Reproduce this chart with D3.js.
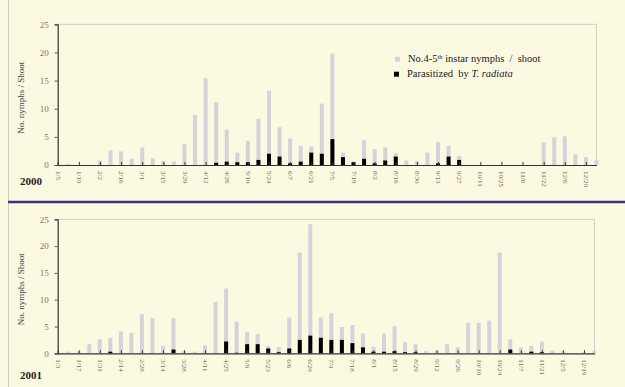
<!DOCTYPE html>
<html>
<head>
<meta charset="utf-8">
<script src="https://cdn.jsdelivr.net/npm/d3@7"></script>
<style>
  html, body { margin: 0; padding: 0; background: #fcf9e1; }
  svg { display: block; }
  text { font-family: "Liberation Serif", "DejaVu Serif", serif; }
</style>
</head>
<body>
<svg id="chart" width="625" height="387"></svg>
<script>
// ---------- DATA ----------
const weeks2000 = ["1/5","1/12","1/19","1/26","2/2","2/9","2/16","2/23","3/1","3/8","3/15","3/22","3/29",
  "4/5","4/12","4/19","4/26","5/3","5/10","5/17","5/24","5/31","6/7","6/14","6/21","6/28",
  "7/5","7/12","7/19","7/26","8/2","8/9","8/16","8/23","8/30","9/6","9/13","9/20","9/27",
  "10/4","10/11","10/18","10/25","11/1","11/8","11/15","11/22","11/29","12/6","12/13","12/20","12/27"];
const ticks2000 = ["1/5","1/19","2/2","2/16","3/1","3/15","3/29","4/12","4/26","5/10","5/24","6/7","6/21",
  "7/5","7/19","8/2","8/16","8/30","9/13","9/27","10/11","10/25","11/8","11/22","12/6","12/20"];
const nymphs2000 = [0,0.2,0,0,0.8,2.6,2.4,1.1,3.1,1.2,0.7,0.6,3.7,
  8.9,15.4,11.2,6.3,2.2,4.3,8.2,13.2,6.7,4.7,3.4,3.3,10.9,
  19.8,2.2,0.6,4.4,2.8,3.1,2.1,0.8,0.7,2.2,4.1,3.4,1.6,
  0,0,0,0,0,0,0,4.0,4.9,5.1,1.9,1.4,0.9];
const parasit2000 = [0,0,0,0,0,0,0,0,0,0,0,0,0,
  0,0,0.4,0.6,0.5,0.5,0.9,2.0,1.5,0.3,0.6,2.2,2.0,
  4.6,1.4,0.5,1.1,0.3,0.8,1.5,0,0,0,0.3,1.5,0.9,
  0,0,0,0,0,0,0,0,0,0,0,0,0];

const weeks2001 = ["1/3","1/10","1/17","1/24","1/31","2/7","2/14","2/21","2/28","3/7","3/14","3/21","3/28",
  "4/4","4/11","4/18","4/25","5/2","5/9","5/16","5/23","5/30","6/6","6/13","6/20","6/27",
  "7/4","7/11","7/18","7/25","8/1","8/8","8/15","8/22","8/29","9/5","9/12","9/19","9/26",
  "10/3","10/10","10/17","10/24","10/31","11/7","11/14","11/21","11/28","12/5","12/12","12/19","12/26"];
const ticks2001 = ["1/3","1/17","1/31","2/14","2/28","3/14","3/28","4/11","4/25","5/9","5/23","6/6","6/20",
  "7/4","7/18","8/1","8/15","8/29","9/12","9/26","10/10","10/24","11/7","11/21","12/5","12/19"];
const nymphs2001 = [0,0.3,0.4,1.7,2.6,2.9,4.1,3.8,7.3,6.6,1.4,6.6,0.4,
  0.3,1.5,9.6,12.1,5.9,4.0,3.6,1.4,1.2,6.7,18.8,24.1,6.7,
  7.5,4.9,5.3,3.7,1.2,3.7,5.0,2.1,1.7,0.4,0.5,1.7,1.1,
  5.7,5.7,6.1,18.8,2.6,1.1,1.4,2.2,0.5,0.4,0,0.2,0.5];
const parasit2001 = [0,0,0,0,0,0.3,0,0,0,0,0,0.7,0,
  0,0,0,2.2,0.1,1.7,1.7,0.9,0.2,0.9,2.5,3.3,2.9,
  2.5,2.5,1.9,1.1,0.3,0.3,0.4,0.2,0.2,0,0,0,0,
  0,0,0,0,0.7,0,0.3,0.2,0,0,0,0,0];

const yTicks = [0, 5, 10, 15, 20, 25];
const yTitle = "No. nymphs / Shoot";
const legendNymph = "No.4-5";
const legendPara = "Parasitized  by ";

// ---------- DRAW ----------
const svg = d3.select("#chart");
const GRAY = "#d3d3dc", BLACK = "#000";

svg.append("rect").attr("width", 625).attr("height", 387).attr("fill", "#fcf9e1");
// outer left rule and blue divider
svg.append("line").attr("x1", 8.5).attr("x2", 8.5).attr("y1", 0).attr("y2", 387)
  .attr("stroke", "#d0cfc4").attr("stroke-width", 1);
svg.append("line").attr("x1", 8).attr("x2", 625).attr("y1", 202).attr("y2", 202)
  .attr("stroke", "#34347e").attr("stroke-width", 2.5);

function panel(cfg) {
  const g = svg.append("g");
  const x = d3.scalePoint().domain(cfg.weeks).range([cfg.left, cfg.right]);
  const y = d3.scaleLinear().domain([0, 25]).range([cfg.bottom, cfg.top]);

  // frame (top and right, light)
  g.append("path")
    .attr("d", `M${cfg.left},${y(25)}H${cfg.right}V${y(0)}`)
    .attr("fill", "none").attr("stroke", "#cfcfc0").attr("stroke-width", 1);

  const bw = 4;
  g.selectAll("rect.n").data(cfg.weeks).join("rect").attr("class", "n")
    .attr("x", (d) => x(d) - bw / 2)
    .attr("width", bw)
    .attr("y", (d, i) => y(cfg.nymphs[i]))
    .attr("height", (d, i) => y(0) - y(cfg.nymphs[i]))
    .attr("fill", GRAY);
  g.selectAll("rect.p").data(cfg.weeks).join("rect").attr("class", "p")
    .attr("x", (d) => x(d) - bw / 2)
    .attr("width", bw)
    .attr("y", (d, i) => y(cfg.para[i]))
    .attr("height", (d, i) => y(0) - y(cfg.para[i]))
    .attr("fill", BLACK);

  // y axis
  const ya = g.append("g").attr("transform", `translate(${cfg.left},0)`)
    .call(d3.axisLeft(y).tickValues(yTicks).tickSize(3).tickPadding(6));
  ya.select(".domain").attr("stroke", "#333").attr("stroke-width", 1.2);
  ya.selectAll(".tick line").attr("stroke", "#555");
  ya.selectAll(".tick text").attr("fill", "#77776a")
    .style("font-family", "Liberation Serif").style("font-size", "9px");

  // x axis
  const xa = g.append("g").attr("transform", `translate(0,${y(0)})`)
    .call(d3.axisBottom(x).tickValues(cfg.ticks).tickSize(-3).tickSizeOuter(0).tickPadding(0));
  xa.select(".domain").attr("stroke", "#333").attr("stroke-width", 1.2);
  xa.selectAll(".tick line").attr("stroke", "#333");
  xa.selectAll(".tick text")
    .attr("fill", "#6e6e60")
    .attr("text-anchor", "start")
    .attr("transform", "translate(0,6) rotate(90)")
    .attr("x", 0).attr("y", 0).attr("dy", "0.35em")
    .style("font-family", "Liberation Serif").style("font-size", "7px");

  // y title
  g.append("text")
    .attr("transform", `translate(${cfg.titleX},${(y(0) + y(25)) / 2 + 3}) rotate(-90)`)
    .attr("text-anchor", "middle")
    .attr("fill", "#444").style("font-size", "9px")
    .text(yTitle);

  // year
  g.append("text").attr("x", 20).attr("y", cfg.yearY)
    .attr("fill", "#222").style("font-size", "11px").style("font-weight", "bold")
    .text(cfg.year);
  return { x, y };
}

panel({ weeks: weeks2000, ticks: ticks2000, nymphs: nymphs2000, para: parasit2000,
  left: 57.7, right: 596.5, top: 24.3, bottom: 165, titleX: 24, year: "2000", yearY: 185 });
panel({ weeks: weeks2001, ticks: ticks2001, nymphs: nymphs2001, para: parasit2001,
  left: 57.7, right: 594.5, top: 219.3, bottom: 353.3, titleX: 24, year: "2001", yearY: 379 });

// legend
const lg = svg.append("g");
lg.append("rect").attr("x", 395).attr("y", 56.7).attr("width", 5).attr("height", 5).attr("fill", GRAY);
lg.append("rect").attr("x", 394).attr("y", 71.7).attr("width", 5).attr("height", 5).attr("fill", BLACK);
const t1 = lg.append("text").attr("x", 408).attr("y", 62).attr("fill", "#222").style("font-size", "10.5px")
  .attr("xml:space", "preserve");
t1.append("tspan").text(legendNymph);
t1.append("tspan").attr("dy", -3.5).style("font-size", "6.5px").text("th");
t1.append("tspan").attr("dy", 3.5).text(" instar nymphs  /  shoot");
const t2 = lg.append("text").attr("x", 407).attr("y", 77.3).attr("fill", "#222").style("font-size", "10.5px")
  .attr("xml:space", "preserve");
t2.append("tspan").text(legendPara);
t2.append("tspan").style("font-style", "italic").text("T. radiata");
</script>
</body>
</html>
